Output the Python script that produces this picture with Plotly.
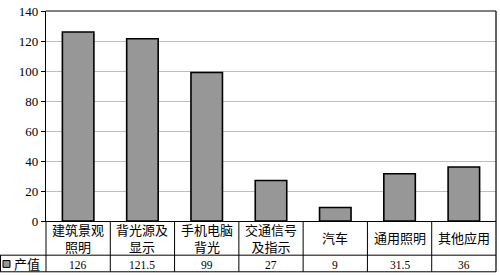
import plotly.graph_objects as go

categories = ["建筑景观<br>照明", "背光源及<br>显示", "手机电脑<br>背光", "交通信号<br>及指示", "汽车", "通用照明", "其他应用"]
values = [126, 121.5, 99, 27, 9, 31.5, 36]
value_labels = ["126", "121.5", "99", "27", "9", "31.5", "36"]
series_name = "产值"
y_ticks = [0, 20, 40, 60, 80, 100, 120, 140]

W, H = 500, 276
L, R, T, B = 46, 4, 6, 55
pw, ph = W - L - R, H - T - B

def py(p):  # pixel y -> paper
    return (H - B - p) / ph

def px(p):  # pixel x -> paper
    return (p - L) / pw

FONT = "Liberation Serif, Noto Sans CJK SC, serif"
x = list(range(len(values)))

fig = go.Figure()
fig.add_trace(go.Bar(x=x, y=values, marker=dict(color="#979797", line=dict(color="black", width=1.6)),
                     width=0.49, showlegend=False))

shapes = []
n = len(values)
for yy in [256, 273]:
    shapes.append(dict(type="line", xref="paper", yref="paper", x0=px(0), x1=1, y0=py(yy), y1=py(yy),
                       line=dict(color="black", width=1)))
for i in range(n - 1):
    shapes.append(dict(type="line", xref="x", yref="paper", x0=i + 0.5, x1=i + 0.5, y0=py(221), y1=py(273),
                       line=dict(color="black", width=1)))
shapes.append(dict(type="line", xref="paper", yref="paper", x0=0, x1=0, y0=py(221), y1=py(273),
                   line=dict(color="black", width=1)))
shapes.append(dict(type="line", xref="paper", yref="paper", x0=1, x1=1, y0=1, y1=py(273),
                   line=dict(color="black", width=1.2)))
shapes.append(dict(type="line", xref="paper", yref="paper", x0=px(0.5), x1=px(0.5), y0=py(256), y1=py(273),
                   line=dict(color="black", width=1)))
shapes.append(dict(type="line", xref="paper", yref="paper", x0=0, x1=1, y0=1, y1=1,
                   line=dict(color="black", width=1.2)))
shapes.append(dict(type="rect", xref="paper", yref="paper", x0=px(3), x1=px(10), y0=py(268.5), y1=py(261.5),
                   fillcolor="#979797", line=dict(color="black", width=1)))

annotations = []
for i, (c, v) in enumerate(zip(categories, value_labels)):
    annotations.append(dict(x=i, y=py(239), xref="x", yref="paper", text=c, showarrow=False,
                            font=dict(family=FONT, size=13, color="black"), align="center", yanchor="middle"))
    annotations.append(dict(x=i, y=py(266), xref="x", yref="paper", text=v, showarrow=False,
                            font=dict(family=FONT, size=11.5, color="black"), yanchor="middle"))
annotations.append(dict(x=px(12), y=py(265.5), xref="paper", yref="paper", text=series_name, showarrow=False,
                        xanchor="left", font=dict(family=FONT, size=13, color="black"), yanchor="middle"))

fig.update_layout(
    width=W, height=H, margin=dict(l=L, r=R, t=T, b=B),
    paper_bgcolor="white", plot_bgcolor="white",
    shapes=shapes, annotations=annotations,
    xaxis=dict(range=[-0.5, n - 0.5], showticklabels=False, ticks="", showgrid=False,
               showline=True, linecolor="black", linewidth=1.2, zeroline=False, fixedrange=True),
    yaxis=dict(range=[0, 140], tickvals=y_ticks, ticks="outside", ticklen=4, tickcolor="black",
               showline=True, linecolor="black", linewidth=1.2, showgrid=True, gridcolor="#bdbdbd",
               gridwidth=1, zeroline=False, ticklabeloverflow="allow",
               tickfont=dict(family=FONT, size=13, color="black")),
    bargap=0.5,
)
fig.write_html("out.html")
